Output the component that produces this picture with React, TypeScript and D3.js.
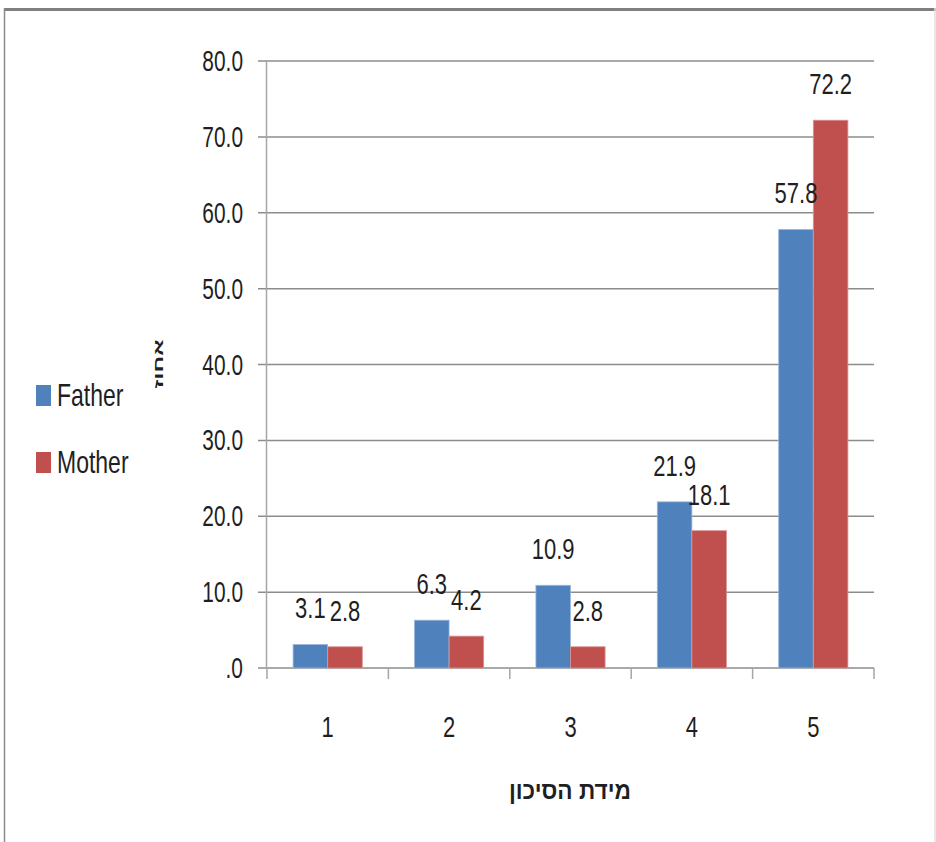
import React from "react";
import * as d3 from "d3";

const categories = ["1", "2", "3", "4", "5"];
const seriesNames = ["Father", "Mother"];
const fatherValues = [3.1, 6.3, 10.9, 21.9, 57.8];
const motherValues = [2.8, 4.2, 2.8, 18.1, 72.2];
const yTicks = [0, 10, 20, 30, 40, 50, 60, 70, 80];
const colors = ["#4F81BD", "#C0504D"];
const yTitle = "אחוז";
const xTitle = "מידת הסיכון";

const W = 936;
const H = 842;
const left = 267;
const right = 874;
const top = 61;
const bottom = 668;

const fmtTick = (v: number) => (v === 0 ? ".0" : v.toFixed(1));

function T({ x, y, s, anchor = "middle", sx = 1, sy = 1.3, size = 22, weight = "normal", rot = 0, family = "'Liberation Sans', Arial, sans-serif" }: any) {
  return (
    <text
      transform={`translate(${x},${y}) rotate(${rot}) scale(${sx},${sy})`}
      textAnchor={anchor}
      fontSize={size}
      fontWeight={weight}
      fontFamily={family}
      fill="#1f1f1f"
    >
      {s}
    </text>
  );
}

export default function App() {
  const x0 = d3.scaleBand<string>().domain(categories).range([left, right]).paddingInner(0.43).paddingOuter(0.215);
  const x1 = d3.scaleBand<string>().domain(seriesNames).range([0, x0.bandwidth()]);
  const y = d3.scaleLinear().domain([0, 80]).range([bottom, top]);
  const step = x0.step();
  const values = [fatherValues, motherValues];

  return (
    <div style={{ position: "absolute", left: 0, top: 0, width: W, height: H, background: "#fff" }}>
      <svg width={W} height={H} style={{ display: "block" }}>
        <rect x={0} y={0} width={W} height={H} fill="#fff" />
        {/* outer border */}
        <line x1={4} y1={9.5} x2={W} y2={9.5} stroke="#7f7f7f" strokeWidth={3} />
        <line x1={4.5} y1={8} x2={4.5} y2={H} stroke="#8a8a8a" strokeWidth={1.5} />
        <line x1={935} y1={8} x2={935} y2={H} stroke="#e0e0e0" strokeWidth={1.5} />

        {/* gridlines */}
        {yTicks.map((t) => (
          <line key={t} x1={258} x2={right} y1={y(t)} y2={y(t)} stroke="#8c8c8c" strokeWidth={1.5} />
        ))}
        {/* y axis line */}
        <line x1={left - 0.5} x2={left - 0.5} y1={top} y2={bottom} stroke="#a6a6a6" strokeWidth={1.5} />
        {/* x ticks */}
        {d3.range(categories.length + 1).map((i) => {
          const xx = left + i * step;
          return <line key={i} x1={xx} x2={xx} y1={bottom} y2={bottom + 11} stroke="#a6a6a6" strokeWidth={1.5} />;
        })}

        {/* y tick labels */}
        {yTicks.map((t) => (
          <T key={t} x={243} y={y(t) + 10} s={fmtTick(t)} anchor="end" sx={0.95} />
        ))}

        {/* bars */}
        {categories.map((c, i) => (
          <g key={c}>
            {seriesNames.map((s, j) => {
              const v = values[j][i];
              const bx = (x0(c) as number) + (x1(s) as number);
              return (
                <rect
                  key={s}
                  x={bx}
                  y={y(v)}
                  width={x1.bandwidth()}
                  height={bottom - y(v)}
                  fill={colors[j]}
                  stroke={j === 0 ? "#9bb7dc" : "#d99795"}
                  strokeWidth={0.8}
                />
              );
            })}
          </g>
        ))}

        {/* data labels */}
        {categories.map((c, i) =>
          seriesNames.map((s, j) => {
            const v = values[j][i];
            const cx = (x0(c) as number) + (x1(s) as number) + x1.bandwidth() / 2;
            return <T key={c + s} x={cx} y={y(v) - 26} s={v.toFixed(1)} />;
          })
        )}

        {/* x tick labels */}
        {categories.map((c) => (
          <T key={c} x={(x0(c) as number) + x0.bandwidth() / 2} y={737} s={c} />
        ))}

        {/* legend */}
        {seriesNames.map((s, j) => (
          <g key={s}>
            <rect x={36} y={385 + j * 67} width={15} height={21} fill={colors[j]} />
            <T x={57} y={406 + j * 67} s={s} anchor="start" size={23} sy={1.35} />
          </g>
        ))}

        {/* axis titles */}
        <T x={163} y={364} s={yTitle} rot={-90} size={15} weight="bold" sx={1.6} sy={0.85} />
        <T x={570} y={799} s={xTitle} size={21} weight="bold" sx={1.08} sy={1.15} />
      </svg>
    </div>
  );
}
